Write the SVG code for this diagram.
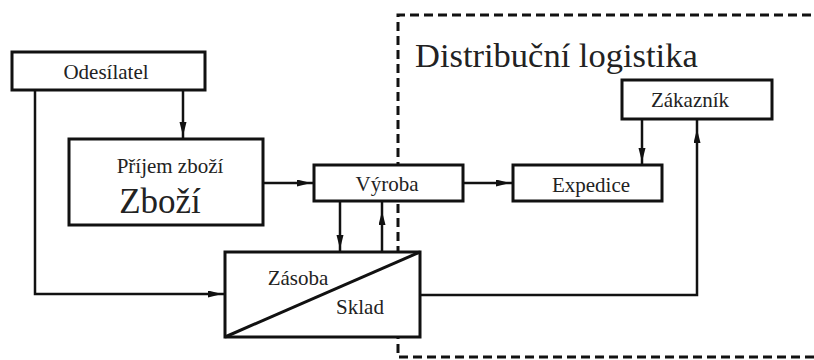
<svg xmlns="http://www.w3.org/2000/svg" width="814" height="360" viewBox="0 0 814 360">
<style>
.box{fill:#fff;stroke:#111;stroke-width:3}
.con{fill:none;stroke:#111;stroke-width:2.5}
.dash{fill:none;stroke:#111;stroke-width:3;stroke-dasharray:9 5}
.t{font-family:'Liberation Serif','Times New Roman','DejaVu Serif',serif;fill:#222;font-size:21px;text-anchor:middle}
</style>
<defs>
<marker id="ah" markerUnits="userSpaceOnUse" markerWidth="20" markerHeight="8" refX="17" refY="3.5" orient="auto" viewBox="0 0 20 8">
<path d="M0,0 L14,3.5 L0,7 z" fill="#111"/>
</marker>
<marker id="ah2" markerUnits="userSpaceOnUse" markerWidth="26" markerHeight="8" refX="24" refY="3.5" orient="auto" viewBox="0 0 26 8">
<path d="M0,0 L14,3.5 L0,7 z" fill="#111"/>
</marker>
</defs>
<rect width="814" height="360" fill="#fff"/>
<g id="distribution-area">
<path class="dash" d="M814,357 H398 V15 H814"/>
<text class="t" x="415" y="67" font-family="Liberation Serif, serif" style="font-size:34.5px;text-anchor:start">Distribuční logistika</text>
</g>
<g id="connectors">
<path class="con" d="M35,90 V294 H225" marker-end="url(#ah)"/>
<path class="con" d="M183,90 V139" marker-end="url(#ah)"/>
<path class="con" d="M263,183 H314" marker-end="url(#ah)"/>
<path class="con" d="M463,183 H513" marker-end="url(#ah)"/>
<path class="con" d="M340,201 V252" marker-end="url(#ah)"/>
<path class="con" d="M382,252 V201" marker-end="url(#ah2)"/>
<path class="con" d="M642,119 V165" marker-end="url(#ah)"/>
<path class="con" d="M420,295 H697 V119" marker-end="url(#ah2)"/>
</g>
<g id="odesilatel">
<rect class="box" x="12" y="52" width="193" height="38"/>
<text class="t" x="106" y="79">Odesílatel</text>
</g>
<g id="prijem">
<rect class="box" x="69" y="139" width="194" height="86"/>
<text class="t" x="170" y="173">Příjem zboží</text>
<text class="t" x="160" y="213" style="font-size:35px">Zboží</text>
</g>
<g id="vyroba">
<rect class="box" x="314" y="165" width="149" height="36"/>
<text class="t" x="387" y="191">Výroba</text>
</g>
<g id="expedice">
<rect class="box" x="513" y="165" width="149" height="36"/>
<text class="t" x="591" y="192">Expedice</text>
</g>
<g id="zakaznik">
<rect class="box" x="622" y="80" width="150" height="39"/>
<text class="t" x="690" y="107">Zákazník</text>
</g>
<g id="sklad">
<rect class="box" x="225" y="252" width="195" height="85"/>
<path class="con" d="M225,337 L420,252" style="stroke-width:3"/>
<text class="t" x="298" y="285">Zásoba</text>
<text class="t" x="360" y="314">Sklad</text>
</g>
</svg>
